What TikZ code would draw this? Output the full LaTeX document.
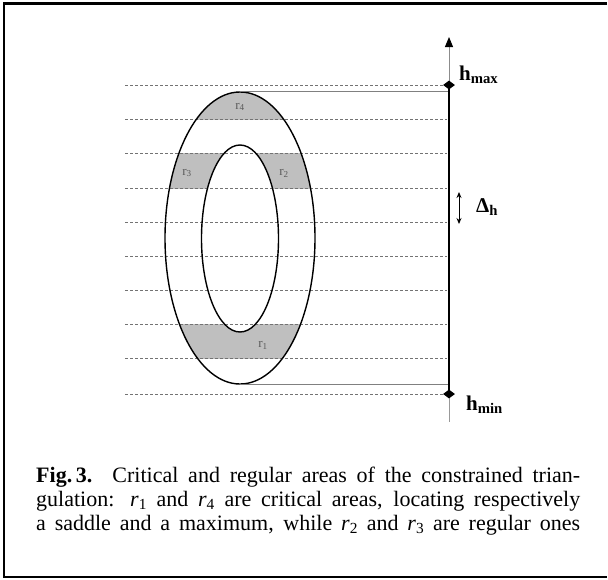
\documentclass[tikz,border=0pt]{standalone}
\usepackage{fontspec}
\setmainfont{Liberation Serif}
\usetikzlibrary{arrows.meta,shapes.geometric}
\begin{document}
\begin{tikzpicture}[x=1pt,y=-1pt,
  hline/.style={black!55, dash pattern=on 3pt off 2pt, line width=0.8pt},
  ring/.style={line width=1.4pt},
  shadefill/.style={fill=black!25},
  rlab/.style={font=\fontsize{13}{13}\selectfont, text=black!65, inner sep=0},
  hlab/.style={font=\fontsize{21}{21}\selectfont\bfseries, inner sep=0, anchor=base west},
  capline/.style={font=\fontsize{22}{24}\selectfont, inner sep=0, anchor=base west},
]
\useasboundingbox (0,0) rectangle (608,579);
% frame
\draw[line width=2.5pt] (607,3.3) -- (4,3.3) -- (4,577) -- (607,577);
% shaded areas
\begin{scope}
  \clip (100,0) rectangle (400,119);
  \fill[shadefill] (240,238) ellipse [x radius=75, y radius=146];
\end{scope}
\begin{scope}
  \clip (100,153) rectangle (400,188);
  \fill[shadefill, even odd rule] (240,238) ellipse [x radius=75, y radius=146]
     (240,238.5) ellipse [x radius=38.5, y radius=93.5];
\end{scope}
\begin{scope}
  \clip (100,324) rectangle (400,358);
  \fill[shadefill, even odd rule] (240,238) ellipse [x radius=75, y radius=146]
     (240,238.5) ellipse [x radius=38.5, y radius=93.5];
\end{scope}
% dashed levels
\foreach \y in {85,119,153,188,222,256,290,324,358,394}
  \draw[hline] (125,\y) -- (447,\y);
% ellipses
\draw[ring] (240,238) ellipse [x radius=75, y radius=146];
\draw[ring] (240,238.5) ellipse [x radius=38.5, y radius=93.5];
% axis
\coordinate (top) at (449,37);
\coordinate (hmax) at (449,85);
\coordinate (hmin) at (449,394);
\coordinate (bot) at (449,422);
\coordinate (etop) at (240,91.5);
\coordinate (ebot) at (240,384.5);
\coordinate (atop) at (449,91.5);
\coordinate (abot) at (449,384.5);
\draw[black!50, line width=1pt] (etop) -- (atop);
\draw[black!50, line width=1pt] (ebot) -- (abot);
\draw[black!45, line width=1pt, -{Triangle[length=10pt,width=8pt,color=black]}] (hmax) -- (top);
\draw[line width=2pt] (hmax) -- (hmin);
\draw[black!40, line width=1pt] (hmin) -- (bot);
\node[diamond, fill=black, inner sep=0, minimum width=12pt, minimum height=9pt] (dmax) at (hmax) {};
\node[diamond, fill=black, inner sep=0, minimum width=12pt, minimum height=9pt] (dmin) at (hmin) {};
% delta arrow
\coordinate (d1) at (459,192);
\coordinate (d2) at (459,224);
\draw[line width=0.9pt, {Stealth[length=6pt,width=5pt]}-{Stealth[length=6pt,width=5pt]}] (d1) -- (d2);
% labels
\node[hlab] (lmax) at (459,80) {h\textsubscript{max}};
\node[hlab] (lmin) at (466,410) {h\textsubscript{min}};
\node[hlab] (ldel) at (476,212) {Δ\textsubscript{h}};
\node[rlab] (r4) at (240,107) {r\textsubscript{4}};
\node[rlab] (r3) at (187,173) {r\textsubscript{3}};
\node[rlab] (r2) at (284,173) {r\textsubscript{2}};
\node[rlab] (r1) at (263,345) {r\textsubscript{1}};
% caption
\node[capline] (c1) at (36,482) {\makebox[544pt][s]{\textbf{Fig.\,3.} Critical and regular areas of the constrained trian-}};
\node[capline] (c2) at (36,506) {\makebox[544pt][s]{gulation: \textit{r}\textsubscript{1} and \textit{r}\textsubscript{4} are critical areas, locating respectively}};
\node[capline] (c3) at (36,530) {\makebox[544pt][s]{a saddle and a maximum, while \textit{r}\textsubscript{2} and \textit{r}\textsubscript{3} are regular ones}};
\end{tikzpicture}
\end{document}
